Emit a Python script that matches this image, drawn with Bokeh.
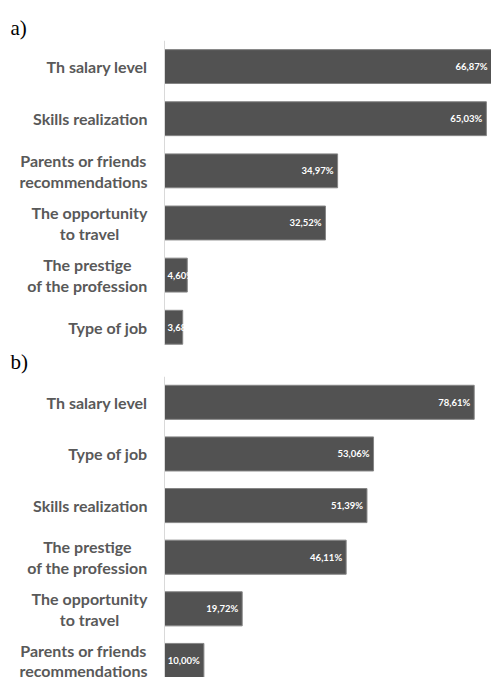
from bokeh.plotting import figure
from bokeh.models import Range1d, ColumnDataSource, Label, Span
from bokeh.layouts import column
from bokeh.core.properties import value
from bokeh.embed import file_html
from bokeh.resources import INLINE

# ---- data ----
a_labels = ["Th salary level", "Skills realization", "Parents or friends\nrecommendations",
            "The opportunity\nto travel", "The prestige\nof the profession", "Type of job"]
a_values = [66.87, 65.03, 34.97, 32.52, 4.60, 3.68]

b_labels = ["Th salary level", "Type of job", "Skills realization",
            "The prestige\nof the profession", "The opportunity\nto travel",
            "Parents or friends\nrecommendations"]
b_values = [78.61, 53.06, 51.39, 46.11, 19.72, 10.00]

LABEL_FONT = "Lato"
W = 491
AXIS_PX = 164          # where the value axis (0) sits, px from the left
LABEL_GAP = 17         # gap between category labels and the axis


def panel(title, labels, values, x_end, y_start, height, border_top, bar_h, standoff):
    n = len(labels)
    pos = list(range(n))
    x_start = -x_end * AXIS_PX / (W - AXIS_PX)
    small = 8.0
    lx = [min(v, x_end) if v >= small else 0 for v in values]
    align = ["right" if v >= small else "left" for v in values]
    xoff = [-4 if v >= small else 3 for v in values]
    txt = [("%.2f" % v).replace(".", ",") + "%" for v in values]
    src = ColumnDataSource(dict(pos=pos, val=values, lx=lx, align=align, xoff=xoff, txt=txt))

    p = figure(width=W, height=height, output_backend="svg", toolbar_location=None,
               x_range=Range1d(x_start, x_end), y_range=Range1d(y_start, -0.5),
               min_border_left=0, min_border_right=0, min_border_top=border_top,
               min_border_bottom=0, title=title)
    p.outline_line_color = None
    p.grid.visible = False
    p.axis.visible = False
    p.background_fill_color = "white"
    p.border_fill_color = "white"

    p.title.text_font = "Liberation Serif"
    p.title.text_font_style = "normal"
    p.title.text_font_size = "21px"
    p.title.text_color = "black"
    p.title.offset = 10
    p.title.standoff = standoff

    # value axis line
    p.add_layout(Span(location=0, dimension="height", line_color="#d9d9d9", line_width=1))

    # category labels: block right-aligned at the axis, lines centred inside
    for i, lab in zip(pos, labels):
        p.add_layout(Label(x=0, y=i, x_offset=-LABEL_GAP, text=lab,
                           anchor="center_right", text_align="center",
                           text_baseline="middle",
                           text_font=LABEL_FONT, text_font_style="bold",
                           text_font_size="16px", text_color="#595959",
                           text_line_height=1.1))

    p.hbar(y="pos", left=0, right="val", height=bar_h, source=src,
           fill_color="#525252", line_color="#858585", line_width=1)
    p.text(x="lx", y="pos", text="txt", source=src, text_align="align",
           x_offset="xoff", text_baseline="middle", text_color="white",
           text_font_size="9.5px", text_font_style="bold", text_font=value(LABEL_FONT))
    return p


pa = panel("a)", a_labels, a_values, 66.06, 5.35, 345, 40, 0.65, 1)
pb = panel("b)", b_labels, b_values, 83.0, 5.33, 332, 30, 0.66, 5)

layout = column(pa, pb, spacing=0)
open("out.html", "w").write(file_html(layout, INLINE))
